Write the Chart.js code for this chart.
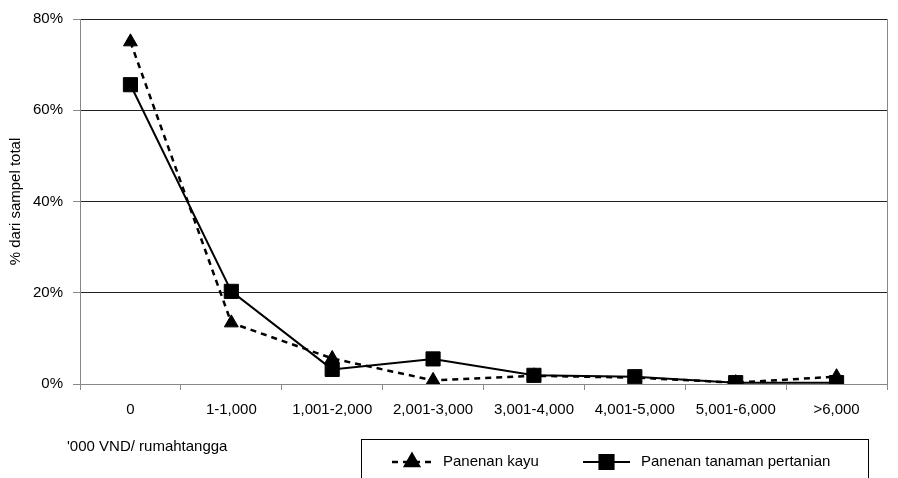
<!DOCTYPE html>
<html>
<head>
<meta charset="utf-8">
<script src="https://cdn.jsdelivr.net/npm/chart.js@4"></script>
<style>
  html, body { margin: 0; padding: 0; background: #fff; }
  #wrap { width: 898px; height: 478px; }
</style>
</head>
<body>
<div id="wrap"><canvas id="myChart" width="898" height="478"></canvas></div>
<script>
// categories and series (percent of total sample)
const categories = ['0', '1-1,000', '1,001-2,000', '2,001-3,000', '3,001-4,000', '4,001-5,000', '5,001-6,000', '>6,000'];
const kayu = [75, 13.4, 5.6, 0.8, 1.8, 1.4, 0.3, 1.6];
const tanaman = [65.6, 20.3, 3.2, 5.5, 1.9, 1.6, 0.3, 0.3];
const yTicks = [0, 20, 40, 60, 80];

const FONT = 'Liberation Sans, Arial, sans-serif';

// legend box + bottom label + right frame line
const extras = {
    id: 'extras',
    afterDraw(chart) {
        const ctx = chart.ctx;
        const area = chart.chartArea;
        ctx.save();
        // right border of plot
        ctx.strokeStyle = '#888';
        ctx.lineWidth = 1;
        ctx.beginPath();
        ctx.moveTo(area.right + 0.5, area.top);
        ctx.lineTo(area.right + 0.5, area.bottom);
        ctx.stroke();

        ctx.fillStyle = '#000';
        ctx.font = '15px ' + FONT;
        ctx.textBaseline = 'middle';
        ctx.textAlign = 'left';
        ctx.fillText("'000 VND/ rumahtangga", 67, 447);

        // legend box
        ctx.strokeStyle = '#000';
        ctx.strokeRect(361.5, 439.5, 507, 60);

        const items = [
            { ds: chart.data.datasets[0], x0: 392, x1: 432, tx: 443 },
            { ds: chart.data.datasets[1], x0: 583, x1: 630, tx: 641 }
        ];
        const ly = 462;
        items.forEach(it => {
            ctx.strokeStyle = '#000';
            ctx.lineWidth = it.ds.borderWidth;
            ctx.setLineDash(it.ds.borderDash || []);
            ctx.beginPath();
            ctx.moveTo(it.x0, ly);
            ctx.lineTo(it.x1, ly);
            ctx.stroke();
            ctx.setLineDash([]);
            Chart.helpers.drawPoint(ctx, {
                pointStyle: it.ds.pointStyle,
                radius: it.ds.pointRadius,
                borderWidth: 1,
                rotation: 0
            }, (it.x0 + it.x1) / 2, ly);
            ctx.fillStyle = '#000';
            ctx.fillText(it.ds.label, it.tx, ly);
        });
        ctx.restore();
    }
};

const createChart = (data) => {
    const ctx = document.getElementById('myChart').getContext('2d');
    return new Chart(ctx, {
        type: 'line',
        data,
        plugins: [extras],
        options: {
            responsive: false,
            animation: false,
            layout: { padding: { top: 13, right: 4, left: 0, bottom: 0 } },
            plugins: { legend: { display: false }, tooltip: { enabled: false } },
            scales: {
                x: {
                    offset: true,
                    grid: { offset: true, drawOnChartArea: false, color: '#888', tickLength: 6 },
                    border: { color: '#888' },
                    ticks: { color: '#000', font: { family: FONT, size: 15 }, padding: 11, maxRotation: 0, autoSkip: false },
                    afterFit: (s) => { s.height = 94; }
                },
                y: {
                    min: 0,
                    max: 80,
                    afterBuildTicks: (s) => { s.ticks = yTicks.map(v => ({ value: v })); },
                    grid: {
                        color: (c) => c.tick && c.tick.value === 0 ? '#888' : '#222',
                        tickLength: 7,
                        tickColor: '#888'
                    },
                    border: { color: '#888' },
                    ticks: { color: '#000', font: { family: FONT, size: 15 }, padding: 10, callback: (v) => v + '%' },
                    title: { display: true, text: '% dari sampel total', color: '#000', font: { family: FONT, size: 15 }, padding: { top: 7, bottom: 0 } },
                    afterFit: (s) => { s.width = 80; }
                }
            }
        }
    });
};

const structureData = () => ({
    labels: categories,
    datasets: [
        {
            label: 'Panenan kayu',
            data: kayu,
            borderColor: '#000',
            backgroundColor: '#000',
            borderWidth: 2.5,
            borderDash: [6, 5],
            pointStyle: 'triangle',
            pointRadius: 8,
            pointBorderWidth: 1,
            tension: 0
        },
        {
            label: 'Panenan tanaman pertanian',
            data: tanaman,
            borderColor: '#000',
            backgroundColor: '#000',
            borderWidth: 2,
            pointStyle: 'rect',
            pointRadius: 10,
            pointBorderWidth: 1,
            tension: 0
        }
    ]
});

createChart(structureData());
</script>
</body>
</html>
